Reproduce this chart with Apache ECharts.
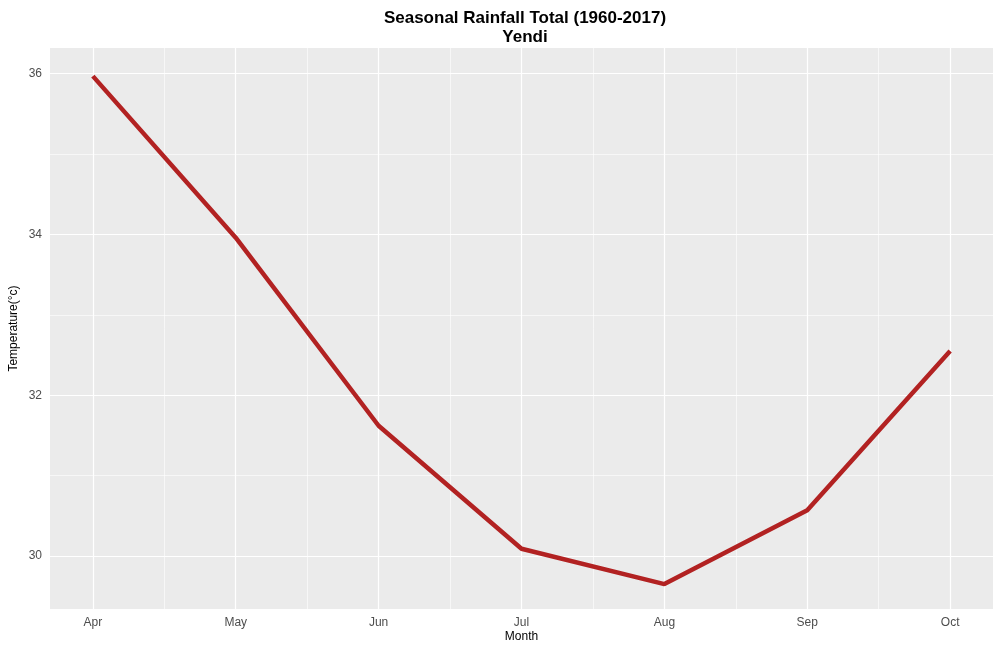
<!DOCTYPE html>
<html><head><meta charset="utf-8">
<script src="https://cdn.jsdelivr.net/npm/echarts@6/dist/echarts.min.js"></script>
<style>html,body{margin:0;padding:0;background:#fff}#c{width:1000px;height:650px}</style>
</head><body><div id="c"></div>
<script>
const months = ['Apr','May','Jun','Jul','Aug','Sep','Oct'];
const temps = [35.97, 33.96, 31.62, 30.09, 29.65, 30.57, 32.55];
const yTicks = [30, 32, 34, 36];
const yMinor = [31, 33, 35];
const xMinor = [0.5, 1.5, 2.5, 3.5, 4.5, 5.5];
const chart = echarts.init(document.getElementById('c'));
const W = '#ffffff';
const lbl = {fontFamily:'Liberation Sans',fontSize:12,color:'#4d4d4d'};
const lines = [];
xMinor.forEach(v=>lines.push({xAxis:v,lineStyle:{color:W,width:0.6,type:'solid'},label:{show:false}}));
yMinor.forEach(v=>lines.push({yAxis:v,lineStyle:{color:W,width:0.6,type:'solid'},label:{show:false}}));
months.forEach((m,i)=>lines.push({xAxis:i,lineStyle:{color:W,width:1.2,type:'solid'},
  label:{show:true,position:'start',formatter:m,distance:8,...lbl}}));
yTicks.forEach(v=>lines.push({yAxis:v,lineStyle:{color:W,width:1.2,type:'solid'},
  label:{show:true,position:'start',formatter:String(v),distance:8,...lbl}}));
chart.setOption({
  animation:false,
  backgroundColor:'#ffffff',
  title:{text:'Seasonal Rainfall Total (1960-2017)\nYendi',left:520,textAlign:'center',top:4,
    textStyle:{fontFamily:'Liberation Sans',fontWeight:'bold',fontSize:17,color:'#000',lineHeight:19}},
  grid:{left:43,right:7,top:48,bottom:41,show:true,backgroundColor:'#ebebeb',borderWidth:0},
  xAxis:{type:'value',min:-0.3,max:6.3,
    name:'Month',nameLocation:'middle',nameGap:22,nameTextStyle:{fontFamily:'Liberation Sans',fontSize:12,color:'#000'},
    axisLine:{show:false},axisTick:{show:false},axisLabel:{show:false},splitLine:{show:false}},
  yAxis:{type:'value',min:29.34,max:36.32,
    name:'Temperature(°c)',nameLocation:'middle',nameGap:30,nameTextStyle:{fontFamily:'Liberation Sans',fontSize:12,color:'#000'},
    axisLine:{show:false},axisTick:{show:false},axisLabel:{show:false},splitLine:{show:false}},
  series:[{type:'line',data:temps.map((t,i)=>[i,t]),showSymbol:false,z:3,
    lineStyle:{color:'#b22222',width:4.5},
    markLine:{silent:true,symbol:['none','none'],z:1,animation:false,data:lines}}]
});
</script></body></html>
